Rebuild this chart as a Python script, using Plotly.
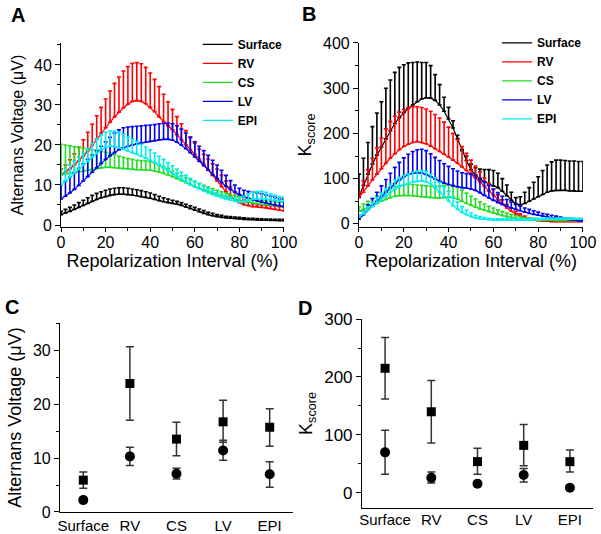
import plotly.graph_objects as go

# repolarization interval, %
interval = list(range(0, 101, 2))

# panel A - alternans voltage (uV), mean and top of the error bar
a_surface_mean = [2.6, 3.0, 3.4, 3.9, 4.4, 4.9, 5.4, 5.9, 6.4, 6.8, 7.1, 7.4, 7.6, 7.7, 7.7, 7.6, 7.5, 7.3, 7.1, 6.9,
                  6.7, 6.4, 6.1, 5.8, 5.6, 5.4, 5.2, 4.9, 4.5, 4.1, 3.7, 3.3, 2.9, 2.6, 2.3, 2.1, 1.9, 1.8, 1.7, 1.6,
                  1.5, 1.4, 1.35, 1.3, 1.25, 1.2, 1.2, 1.15, 1.15, 1.1, 1.1]
a_surface_top = [3.4, 3.9, 4.4, 5.0, 5.6, 6.2, 6.8, 7.4, 7.9, 8.3, 8.7, 9.0, 9.2, 9.3, 9.3, 9.2, 9.0, 8.8, 8.6, 8.3,
                 8.0, 7.6, 7.2, 6.8, 6.5, 6.2, 5.9, 5.6, 5.2, 4.8, 4.4, 4.0, 3.6, 3.2, 2.9, 2.6, 2.4, 2.2, 2.1, 2.0,
                 1.9, 1.8, 1.7, 1.65, 1.6, 1.55, 1.5, 1.5, 1.45, 1.45, 1.4]
a_rv_mean = [12.5, 13.2, 14.0, 15.0, 16.0, 17.2, 18.5, 20.0, 21.5, 23.0, 24.3, 25.7, 27.0, 28.2, 29.3, 30.2, 30.9, 31.1,
             30.9, 30.3, 29.4, 28.3, 27.0, 25.8, 24.8, 23.8, 22.6, 21.3, 20.0, 18.8, 17.7, 16.5, 15.2, 13.8, 12.4,
             11.0, 9.6, 8.3, 7.2, 6.3, 5.6, 5.1, 4.8, 4.6, 4.5, 4.4, 4.3, 4.1, 3.9, 3.7, 3.5]
a_rv_top = [14.0, 15.0, 16.3, 17.8, 19.5, 21.3, 23.2, 25.2, 27.3, 29.4, 31.5, 33.5, 35.4, 37.0, 38.5, 39.6, 40.4, 40.6,
            40.3, 39.4, 38.0, 36.4, 34.6, 32.7, 30.8, 28.9, 27.1, 25.3, 23.6, 22.0, 20.5, 19.0, 17.7, 16.5, 15.3,
            14.0, 12.5, 11.0, 9.6, 8.3, 7.2, 6.3, 5.7, 5.3, 5.1, 5.0, 4.9, 4.8, 4.7, 4.6, 4.5]
a_cs_mean = [12.5, 12.7, 12.9, 13.1, 13.3, 13.5, 13.7, 13.9, 14.1, 14.3, 14.4, 14.4, 14.3, 14.2, 14.1, 14.0, 13.9, 13.8,
             13.8, 13.8, 13.7, 13.5, 13.2, 12.9, 12.5, 12.1, 11.6, 11.1, 10.6, 10.1, 9.6, 9.2, 8.8, 8.4, 8.0, 7.6,
             7.3, 7.0, 6.7, 6.4, 6.1, 5.9, 5.7, 5.5, 5.3, 5.2, 5.1, 5.0, 4.9, 4.8, 4.6]
a_cs_top = [20.2, 20.0, 19.8, 19.6, 19.4, 19.2, 19.0, 18.8, 18.6, 18.4, 18.2, 17.9, 17.6, 17.2, 16.9, 16.6, 16.4, 16.2,
            16.1, 16.0, 15.8, 15.5, 15.1, 14.6, 14.1, 13.5, 12.9, 12.3, 11.8, 11.3, 10.8, 10.4, 9.9, 9.5, 9.1, 8.7,
            8.3, 8.0, 7.7, 7.4, 7.1, 6.8, 6.6, 6.4, 6.2, 6.1, 6.0, 5.9, 5.8, 5.7, 5.6]
a_lv_mean = [6.5, 7.2, 8.0, 8.9, 9.9, 11.0, 12.1, 13.2, 14.3, 15.4, 16.4, 17.3, 18.1, 18.8, 19.3, 19.7, 20.0, 20.3,
             20.5, 20.7, 20.9, 21.1, 21.3, 21.4, 21.4, 21.2, 20.7, 20.0, 19.1, 18.1, 17.0, 15.9, 14.8, 13.7, 12.6,
             11.6, 10.6, 9.7, 8.9, 8.2, 7.6, 7.1, 6.7, 6.3, 6.0, 5.7, 5.5, 5.2, 5.0, 4.8, 4.6]
a_lv_top = [10.0, 11.0, 12.0, 13.1, 14.2, 15.3, 16.4, 17.5, 18.6, 19.7, 20.8, 21.9, 23.0, 23.8, 24.3, 24.5, 24.6, 24.7,
            24.8, 24.9, 25.0, 25.1, 25.3, 25.4, 25.5, 25.3, 24.8, 24.0, 23.0, 21.9, 20.8, 19.7, 18.6, 17.4, 16.2,
            15.0, 13.7, 12.4, 11.1, 10.0, 9.2, 8.7, 8.4, 8.2, 8.0, 7.8, 7.5, 7.2, 6.9, 6.6, 6.4]
a_epi_mean = [10.0, 11.0, 12.0, 13.0, 14.0, 15.0, 16.0, 17.0, 18.0, 18.8, 19.4, 19.7, 19.6, 19.3, 18.9, 18.5, 18.1,
              17.7, 17.2, 16.7, 16.2, 15.6, 14.9, 14.2, 13.5, 12.8, 12.1, 11.4, 10.7, 10.1, 9.5, 9.0, 8.5, 8.0, 7.6,
              7.2, 6.8, 6.5, 6.2, 5.9, 5.7, 5.8, 6.1, 6.4, 6.5, 6.5, 6.5, 6.3, 6.1, 6.0, 5.9]
a_epi_top = [13.0, 14.0, 15.0, 16.0, 17.0, 18.0, 19.2, 20.4, 21.6, 22.6, 23.2, 23.5, 23.5, 23.2, 22.7, 22.1, 21.5,
             20.9, 20.2, 19.5, 18.8, 18.0, 17.2, 16.4, 15.6, 14.8, 14.0, 13.2, 12.4, 11.7, 11.0, 10.3, 9.7, 9.1,
             8.6, 8.1, 7.7, 7.3, 7.0, 6.8, 6.8, 7.2, 7.8, 8.2, 8.4, 8.4, 8.2, 7.8, 7.4, 7.1, 6.9]

# panel B - Kscore, mean and top of the error bar
b_surface_mean = [60, 85, 110, 132, 152, 170, 188, 206, 222, 235, 246, 255, 263, 270, 276, 279, 278, 273, 263, 249,
                  232, 212, 188, 162, 140, 120, 108, 99, 93, 88, 84, 80, 72, 62, 52, 44, 42, 45, 50, 55, 60, 65,
                  70, 73, 74, 74, 74, 73, 73, 72, 72]
b_surface_top = [110, 145, 180, 215, 245, 270, 300, 318, 335, 346, 352, 356, 357, 358, 357, 357, 350, 330, 308, 280,
                 258, 228, 196, 165, 150, 132, 124, 121, 120, 120, 118, 112, 100, 86, 70, 58, 60, 70, 80, 92, 104,
                 118, 130, 137, 141, 141, 140, 139, 139, 138, 138]
b_rv_mean = [58, 70, 84, 97, 110, 122, 134, 145, 155, 164, 171, 176, 180, 182, 180, 177, 172, 166, 160, 154, 148,
             141, 134, 126, 118, 110, 102, 93, 83, 73, 63, 53, 43, 35, 28, 22, 17, 13, 10, 8, 7, 6, 6, 5, 5, 5, 5,
             5, 5, 5, 5]
b_rv_top = [70, 95, 120, 145, 168, 190, 210, 226, 238, 247, 253, 257, 259, 259, 257, 254, 249, 242, 234, 225, 214,
            200, 186, 171, 156, 141, 128, 115, 102, 89, 76, 64, 53, 43, 35, 28, 22, 17, 13, 10, 8.5, 7.5, 7, 6.5,
            6.5, 6, 6, 6, 6, 6, 6]
b_cs_mean = [28, 32, 36, 40, 45, 50, 54, 58, 61, 62, 63, 63, 62, 61, 60, 59, 58, 57, 57, 58, 59, 58, 55, 50, 45, 41,
             37, 33, 30, 27, 24, 21, 18, 16, 14, 12, 11, 10, 9, 9, 8, 8, 8, 8, 7, 7, 7, 7, 7, 7, 7]
b_cs_top = [38, 44, 50, 56, 62, 68, 73, 78, 82, 84, 86, 87, 87, 86, 85, 84, 83, 83, 84, 85, 86, 85, 81, 75, 68, 61,
            55, 49, 44, 39, 35, 31, 27, 24, 21, 18, 16, 14, 13, 12, 11, 11, 10, 10, 10, 10, 10, 10, 10, 10, 10]
b_lv_mean = [10, 20, 30, 40, 50, 60, 70, 80, 89, 97, 104, 109, 112, 113, 112, 109, 104, 99, 94, 90, 87, 84, 82, 80,
             79, 77, 74, 69, 63, 57, 52, 47, 43, 39, 35, 32, 29, 26, 23, 21, 19, 17, 15, 13, 12, 11, 10, 9, 8, 7, 6]
b_lv_top = [15, 28, 42, 56, 70, 84, 98, 112, 125, 136, 146, 154, 160, 164, 165, 162, 155, 147, 140, 133, 127, 122,
            117, 113, 111, 110, 107, 101, 93, 85, 77, 69, 61, 54, 48, 43, 39, 35, 32, 29, 26, 23, 21, 19, 17, 15,
            13, 12, 11, 10, 9]
b_epi_mean = [15, 22, 30, 38, 46, 54, 62, 70, 77, 82, 86, 89, 92, 94, 95, 93, 88, 80, 70, 60, 50, 40, 32, 25, 20, 16,
              13, 11, 10, 9, 8, 8, 8, 8, 8, 8, 8, 8, 8, 9, 9, 9, 10, 10, 10, 10, 10, 10, 10, 10, 10]
b_epi_top = [20, 28, 38, 48, 58, 68, 78, 88, 97, 103, 107, 110, 114, 117, 118, 116, 110, 102, 92, 82, 72, 60, 48,
             38, 30, 24, 19, 16, 14, 12, 11, 11, 11, 11, 11, 11, 11, 11, 11, 12, 12, 12, 13, 13, 13, 13, 13, 13, 13,
             12, 12]

# panels C and D - group summaries
sites = ["Surface", "RV", "CS", "LV", "EPI"]
c_sq = [5.9, 23.8, 13.5, 16.7, 15.7]
c_sq_hi = [7.4, 30.6, 16.6, 20.7, 19.1]
c_sq_lo = [4.4, 17.0, 10.4, 12.9, 12.2]
c_ci = [2.2, 10.3, 7.1, 11.4, 7.0]
c_ci_hi = [2.7, 12.0, 8.1, 13.3, 9.3]
c_ci_lo = [1.8, 8.6, 6.1, 9.6, 4.6]
d_sq = [215, 140, 54, 82, 54]
d_sq_hi = [268, 194, 77, 118, 74]
d_sq_lo = [162, 86, 32, 47, 36]
d_ci = [70, 26, 16, 31, 9]
d_ci_hi = [108, 36, 18, 42, 9]
d_ci_lo = [32, 17, 14, 19, 9]

names = ["Surface", "RV", "CS", "LV", "EPI"]
colors = ["#000000", "#ff0000", "#22dd22", "#0000ee", "#00eeee"]

FONT = "Arial, Liberation Sans, sans-serif"

fig = go.Figure()

a_series = [(a_surface_mean, a_surface_top), (a_rv_mean, a_rv_top), (a_cs_mean, a_cs_top),
            (a_lv_mean, a_lv_top), (a_epi_mean, a_epi_top)]
b_series = [(b_surface_mean, b_surface_top), (b_rv_mean, b_rv_top), (b_cs_mean, b_cs_top),
            (b_lv_mean, b_lv_top), (b_epi_mean, b_epi_top)]

for panel, series, leg in [("", a_series, "legend"), ("2", b_series, "legend2")]:
    for name, col, (mean, top) in zip(names, colors, series):
        err = [t - m for m, t in zip(mean, top)]
        fig.add_trace(go.Scatter(
            x=interval, y=mean, mode="lines", name=name,
            line=dict(color=col, width=1.2),
            error_y=dict(type="data", symmetric=False, array=err, arrayminus=[0] * len(err),
                         color=col, thickness=1.6, width=2),
            xaxis="x" + panel, yaxis="y" + panel, legend=leg))


def summary(y, hi, lo, symbol, size, xa, ya):
    fig.add_trace(go.Scatter(
        x=sites, y=y, mode="markers", showlegend=False,
        marker=dict(symbol=symbol, size=size, color="black"),
        error_y=dict(type="data", symmetric=False,
                     array=[h - v for v, h in zip(y, hi)],
                     arrayminus=[v - l for v, l in zip(y, lo)],
                     color="#333333", thickness=1.5, width=4),
        xaxis=xa, yaxis=ya))


summary(c_sq, c_sq_hi, c_sq_lo, "square", 9, "x3", "y3")
summary(c_ci, c_ci_hi, c_ci_lo, "circle", 10, "x3", "y3")
summary(d_sq, d_sq_hi, d_sq_lo, "square", 9, "x4", "y4")
summary(d_ci, d_ci_hi, d_ci_lo, "circle", 10, "x4", "y4")

base = dict(showline=True, linecolor="black", linewidth=1, showgrid=False, zeroline=False, automargin=False,
            ticks="outside", ticklen=5, tickcolor="black", tickfont=dict(size=16, family=FONT, color="black"))

interval_axis = dict(base, range=[0, 100], dtick=20, ticklen=4, ticklabelstandoff=-3,
                     minor=dict(ticks="outside", dtick=10, ticklen=3, tickcolor="black"),
                     title=dict(text="Repolarization Interval (%)", font=dict(size=18, family=FONT), standoff=0))

fig.update_layout(
    width=601, height=534, margin=dict(l=0, r=0, t=0, b=0),
    paper_bgcolor="white", plot_bgcolor="white",
    font=dict(family=FONT, color="black"),
    xaxis=dict(interval_axis, domain=[0.1015, 0.4725], anchor="y"),
    yaxis=dict(base, domain=[0.5749, 0.9195], range=[-0.5, 45.5], dtick=10, anchor="x",
               minor=dict(ticks="outside", dtick=5, ticklen=3, tickcolor="black"),
               title=dict(text="Alternans Voltage (\u03bcV)", font=dict(size=16, family=FONT), standoff=6)),
    xaxis2=dict(interval_axis, domain=[0.5973, 0.970], anchor="y2"),
    yaxis2=dict(base, domain=[0.5749, 0.9195], range=[-7, 400], dtick=100, anchor="x2",
                minor=dict(ticks="outside", dtick=50, ticklen=3, tickcolor="black"),
                title=dict(text="K<sub>score</sub>", font=dict(size=18, family=FONT), standoff=6)),
    xaxis3=dict(base, domain=[0.0998, 0.4875], anchor="y3", type="category", range=[-0.5, 4.5],
                ticks="", tickfont=dict(size=15, family=FONT, color="black")),
    yaxis3=dict(base, domain=[0.0412, 0.3951], range=[0, 35], dtick=10, anchor="x3",
                minor=dict(ticks="outside", dtick=5, ticklen=3, tickcolor="black"),
                title=dict(text="Alternans Voltage (\u03bcV)", font=dict(size=18, family=FONT), standoff=6)),
    xaxis4=dict(base, domain=[0.6023, 0.9867], anchor="y4", type="category", range=[-0.5, 4.5],
                ticks="", ticklabelstandoff=-2, tickfont=dict(size=15, family=FONT, color="black")),
    yaxis4=dict(base, domain=[0.0487, 0.4026], range=[-26, 300], dtick=100, anchor="x4",
                tick0=0, minor=dict(ticks="outside", dtick=50, ticklen=3, tickcolor="black"),
                tickfont=dict(size=17, family=FONT, color="black"),
                title=dict(text="K<sub>score</sub>", font=dict(size=18, family=FONT), standoff=6)),
    legend=dict(x=0.329, y=0.944, xanchor="left", yanchor="top", bgcolor="rgba(0,0,0,0)",
                font=dict(size=12, family=FONT, weight="bold"), itemwidth=30, tracegroupgap=0),
    legend2=dict(x=0.827, y=0.947, xanchor="left", yanchor="top", bgcolor="rgba(0,0,0,0)",
                 font=dict(size=12, family=FONT, weight="bold"), itemwidth=30, tracegroupgap=0),
)

for txt, x, y in [("A", 18, 15), ("B", 309, 14), ("C", 12, 307), ("D", 305, 308)]:
    fig.add_annotation(text="<b>%s</b>" % txt, x=x / 601, y=1 - y / 534, xref="paper", yref="paper",
                       xanchor="center", yanchor="middle",
                       showarrow=False, font=dict(size=20, family=FONT, color="black"))

# the page body has a default 8px margin; drop it so the figure fills the window
fig.write_html("out.html", config={"displayModeBar": False},
               post_script="document.body.style.margin='0';")
